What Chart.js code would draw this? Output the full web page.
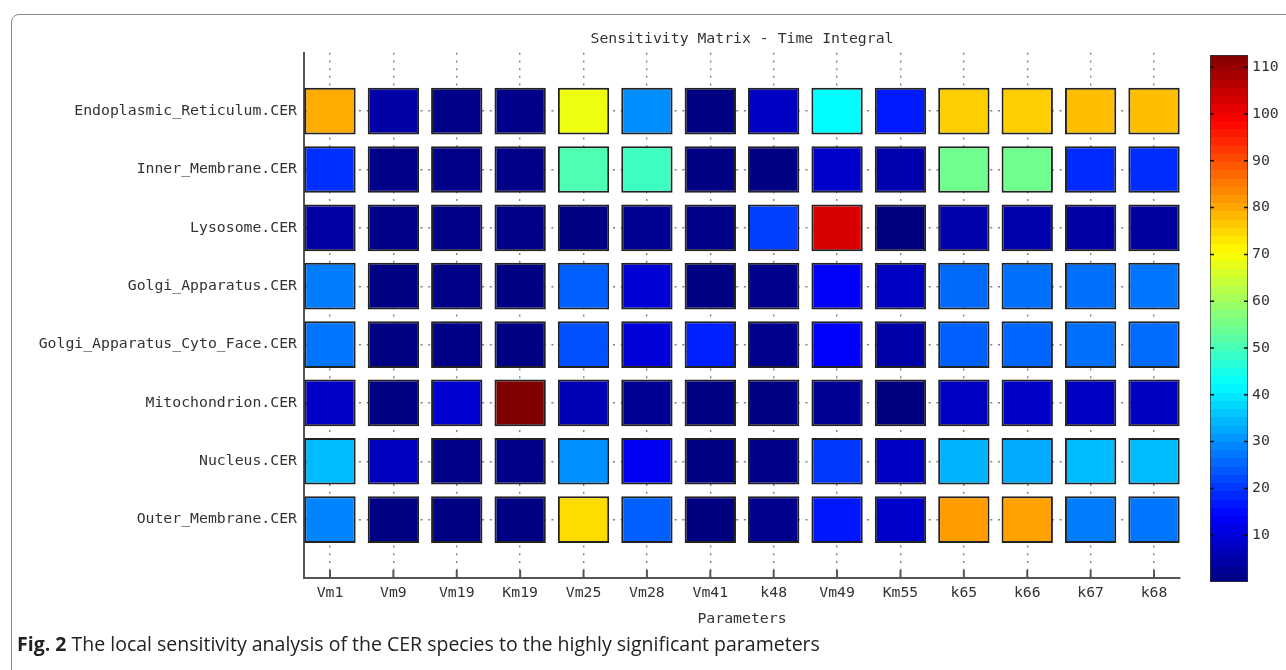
<!DOCTYPE html>
<html>
<head>
<meta charset="utf-8">
<script src="https://cdn.jsdelivr.net/npm/chart.js@4.4.1/dist/chart.umd.min.js"></script>
<style>
  html, body { margin: 0; padding: 0; background: #fff; }
  body { width: 1286px; height: 670px; position: relative; overflow: hidden; }
  #frame { position: absolute; left: 11px; top: 14px; width: 1300px; height: 700px; border: 1px solid #8a8a8a; border-radius: 8px; }
  #main { position: absolute; left: 0; top: 0; width: 1200px; height: 670px; }
  #bar { position: absolute; left: 1200px; top: 0; width: 86px; height: 670px; }
  #caption { position: absolute; left: 17px; top: 634px; font: 19.5px "Open Sans", sans-serif; line-height: 20px; color: #222; white-space: nowrap; }
</style>
</head>
<body>
<div id="frame"></div>
<div id="main"><canvas id="chart"></canvas></div>
<div id="bar"><canvas id="colorbar"></canvas></div>
<div id="caption"><b>Fig. 2</b> The local sensitivity analysis of the CER species to the highly significant parameters</div>
<script>
// parameters along x, species along y
const parameters = ["Vm1", "Vm9", "Vm19", "Km19", "Vm25", "Vm28", "Vm41", "k48", "Vm49", "Km55", "k65", "k66", "k67", "k68"];
const species = [
  "Endoplasmic_Reticulum.CER",
  "Inner_Membrane.CER",
  "Lysosome.CER",
  "Golgi_Apparatus.CER",
  "Golgi_Apparatus_Cyto_Face.CER",
  "Mitochondrion.CER",
  "Nucleus.CER",
  "Outer_Membrane.CER"
];

// sensitivity (time integral), one array per species row
const endoplasmicReticulum = [79.6, 4.3, 1.0, 1.2, 68.5, 29.8, 0.6, 7.4, 42.0, 17.0, 75.8, 75.8, 77.4, 77.5];
const innerMembrane        = [19.3, 1.0, 1.0, 1.0, 50.7, 49.0, 0.5, 0.3, 8.6, 5.2, 54.6, 54.6, 18.7, 19.0];
const lysosome             = [4.0, 1.0, 1.0, 1.0, 0.5, 2.0, 1.0, 21.0, 102.5, 0.1, 5.0, 5.0, 4.0, 3.5];
const golgiApparatus       = [28.0, 0.5, 1.0, 0.5, 24.7, 9.7, 0.5, 1.5, 13.6, 7.5, 25.8, 26.5, 26.5, 27.0];
const golgiCytoFace        = [27.0, 0.5, 0.8, 0.5, 23.0, 10.0, 17.6, 1.5, 14.0, 4.5, 24.7, 25.3, 26.5, 26.0];
const mitochondrion        = [8.0, 0.5, 9.0, 112.6, 6.0, 2.5, 0.5, 0.5, 2.5, 0.0, 7.4, 8.0, 7.4, 7.0];
const nucleus              = [34.7, 7.0, 1.0, 1.0, 30.0, 13.0, 0.5, 1.0, 20.3, 7.4, 33.7, 33.0, 34.7, 34.7];
const outerMembrane        = [28.6, 0.5, 0.5, 0.5, 74.2, 24.7, 0.2, 1.5, 16.5, 8.6, 81.2, 80.7, 28.0, 27.0];

const colorbarTicks = [10, 20, 30, 40, 50, 60, 70, 80, 90, 100, 110];

const matrix = [endoplasmicReticulum, innerMembrane, lysosome, golgiApparatus, golgiCytoFace, mitochondrion, nucleus, outerMembrane];
const allValues = matrix.flat();
const cMin = Math.min(...allValues);
const cMax = Math.max(...allValues);

// matlab style jet colormap
function jet(f) {
  f = Math.min(1, Math.max(0, f));
  const c = t => Math.round(255 * Math.min(1, Math.max(0, 1.5 - Math.abs(t))));
  return "rgb(" + c(4 * f - 3) + "," + c(4 * f - 2) + "," + c(4 * f - 1) + ")";
}
const toColor = v => jet((v - cMin) / (cMax - cMin));

const monoFont = { family: "'DejaVu Sans Mono', monospace", size: 14.8 };
const textColor = "#333";
const dots = [2, 5.7];

const insideTicks = {
  id: "insideTicks",
  beforeDatasetsDraw(chart) {
    const { ctx, chartArea, scales: { x, y } } = chart;
    ctx.save();
    ctx.strokeStyle = "#555";
    ctx.lineWidth = 2;
    ctx.beginPath();
    x.ticks.forEach(t => {
      const px = x.getPixelForValue(t.value);
      ctx.moveTo(px, chartArea.bottom);
      ctx.lineTo(px, chartArea.bottom - 8);
    });
    y.ticks.forEach(t => {
      const py = y.getPixelForValue(t.value);
      ctx.moveTo(chartArea.left, py);
      ctx.lineTo(chartArea.left + 8, py);
    });
    ctx.stroke();
    ctx.restore();
  }
};

const cellHalf = 0.4;
const datasets = matrix.map((row, r) => ({
  label: species[r],
  data: row.map((v, c) => ({ x: c + 1, y: [r + 1 - cellHalf, r + 1 + cellHalf] })),
  backgroundColor: row.map(toColor),
  borderColor: "#222",
  borderWidth: 2,
  borderSkipped: false,
  grouped: false,
  categoryPercentage: 1,
  barPercentage: 0.81
}));

new Chart(document.getElementById("chart"), {
  type: "bar",
  data: { datasets: datasets },
  options: {
    responsive: true,
    maintainAspectRatio: false,
    animation: false,
    layout: { padding: { left: 0, right: 20, top: 0, bottom: 37 } },
    plugins: {
      legend: { display: false },
      tooltip: { enabled: false },
      title: {
        display: true,
        text: "Sensitivity Matrix - Time Integral",
        fullSize: false,
        color: textColor,
        font: { family: monoFont.family, size: monoFont.size, weight: "normal", lineHeight: 1.2 },
        padding: { top: 30, bottom: 5 }
      }
    },
    scales: {
      x: {
        type: "linear",
        min: 0.59,
        max: 14.41,
        bounds: "data",
        offset: false,
        afterBuildTicks: s => { s.ticks = parameters.map((p, i) => ({ value: i + 1 })); },
        afterFit: s => { s.height = 55; },
        ticks: { callback: v => parameters[v - 1] || "", color: textColor, font: monoFont, padding: 6, maxRotation: 0, autoSkip: false },
        grid: { offset: false, drawTicks: false, color: "#808080", lineWidth: 1.4, borderDash: dots },
        border: { display: true, color: "#555", width: 2, dash: dots },
        title: { display: true, text: "Parameters", color: textColor, font: monoFont, padding: { top: 0, bottom: 5 } }
      },
      y: {
        type: "linear",
        min: 0,
        max: 9,
        reverse: true,
        bounds: "data",
        afterBuildTicks: s => { s.ticks = species.map((p, i) => ({ value: i + 1 })); },
        afterFit: s => { s.width = 304; },
        ticks: { callback: v => species[v - 1] || "", color: textColor, font: monoFont, padding: 7, autoSkip: false },
        grid: { drawTicks: false, color: "#808080", lineWidth: 1.4, borderDash: dots },
        border: { display: true, color: "#555", width: 2, dash: dots }
      }
    }
  },
  plugins: [insideTicks]
});

// colour bar
const jetGradient = c => {
  const area = c.chart.chartArea;
  if (!area) return toColor(cMin);
  const g = c.chart.ctx.createLinearGradient(0, area.bottom, 0, area.top);
  for (let i = 0; i < 64; i++) {
    const col = jet((i + 0.5) / 64);
    g.addColorStop(i / 64, col);
    g.addColorStop((i + 1) / 64, col);
  }
  return g;
};

const barTicks = {
  id: "barTicks",
  afterDatasetsDraw(chart) {
    const { ctx, chartArea, scales: { y } } = chart;
    ctx.save();
    ctx.strokeStyle = "#111";
    ctx.lineWidth = 1.5;
    ctx.beginPath();
    y.ticks.forEach(t => {
      const py = y.getPixelForValue(t.value);
      ctx.moveTo(chartArea.left, py);
      ctx.lineTo(chartArea.left + 4, py);
      ctx.moveTo(chartArea.right, py);
      ctx.lineTo(chartArea.right - 4, py);
    });
    ctx.stroke();
    ctx.restore();
  }
};

new Chart(document.getElementById("colorbar"), {
  type: "bar",
  data: {
    labels: ["scale"],
    datasets: [{
      data: [[cMin, cMax]],
      backgroundColor: jetGradient,
      borderColor: "#333",
      borderWidth: 1,
      borderSkipped: false,
      categoryPercentage: 1,
      barPercentage: 1
    }]
  },
  options: {
    responsive: true,
    maintainAspectRatio: false,
    animation: false,
    layout: { padding: { left: 10, right: 0, top: 55, bottom: 88 } },
    plugins: { legend: { display: false }, tooltip: { enabled: false } },
    scales: {
      x: { display: false },
      y: {
        position: "right",
        min: cMin,
        max: cMax,
        bounds: "data",
        grid: { display: false, drawTicks: false },
        border: { display: false },
        afterBuildTicks: s => { s.ticks = colorbarTicks.map(v => ({ value: v })); },
        afterFit: s => { s.width = 38; },
        ticks: { color: textColor, font: monoFont, padding: 4 }
      }
    }
  },
  plugins: [barTicks]
});
</script>
</body>
</html>
